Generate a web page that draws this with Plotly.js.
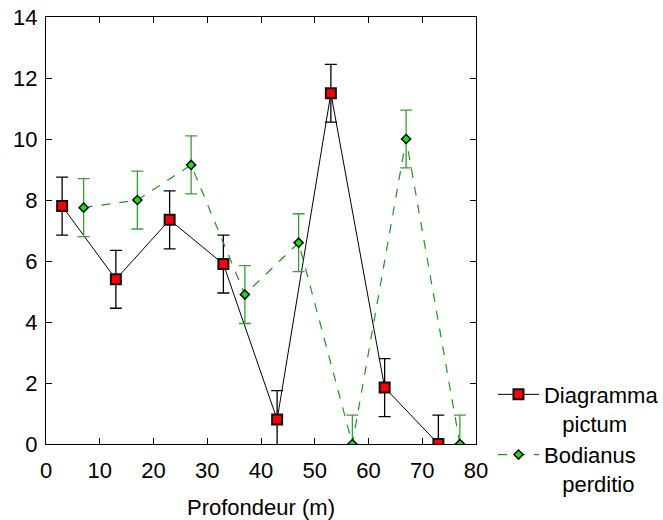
<!DOCTYPE html>
<html>
<head>
<meta charset="utf-8">
<script src="https://cdn.plot.ly/plotly-3.0.1.min.js"></script>
<style>html,body{margin:0;padding:0;background:#fff}</style>
</head>
<body>
<div id="chart" style="width:663px;height:520px"></div>
<script>
const depthA = [3, 13, 23, 33, 43, 53, 63, 73];
const valuesA = [7.8, 5.4, 7.35, 5.9, 0.8, 11.5, 1.85, 0];
const errA = [0.95, 0.95, 0.95, 0.95, 0.95, 0.95, 0.95, 0.95];
const depthB = [7, 17, 27, 37, 47, 57, 67, 77];
const valuesB = [7.75, 8.0, 9.15, 4.9, 6.6, 0, 10.0, 0];
const errB = [0.95, 0.95, 0.95, 0.95, 0.95, 0.95, 0.95, 0.95];
const nameA = "Diagramma<br>   pictum";
const nameB = "Bodianus<br>   perditio";

const traces = [
  {
    x: depthA, y: valuesA, name: nameA, type: 'scatter', mode: 'lines+markers',
    line: {color: '#000000', width: 1},
    marker: {symbol: 'square', size: 10, color: '#ff0000', line: {color: '#111111', width: 2}},
    error_y: {type: 'data', array: errA, visible: true, color: '#000000', thickness: 1.3, width: 6}
  },
  {
    x: depthB, y: valuesB, name: nameB, type: 'scatter', mode: 'lines+markers',
    line: {color: '#1e961e', width: 1.2, dash: 'dash'},
    marker: {symbol: 'diamond', size: 7, color: '#00ee00', line: {color: '#000000', width: 1.5}},
    error_y: {type: 'data', array: errB, visible: true, color: '#3a9e3a', thickness: 1.3, width: 6}
  }
];

const layout = {
  width: 663, height: 520,
  margin: {l: 46, r: 187, t: 17, b: 76, autoexpand: false},
  paper_bgcolor: '#ffffff', plot_bgcolor: '#ffffff',
  font: {family: 'Liberation Sans, Arial, sans-serif', size: 22, color: '#000000'},
  showlegend: true,
  legend: {x: 1.0395, y: 0.165, xanchor: 'left', yanchor: 'top', valign: 'top', itemwidth: 41, font: {size: 22}, tracegroupgap: 0, bgcolor: 'rgba(0,0,0,0)'},
  xaxis: {
    range: [0, 80], dtick: 10, tick0: 0, ticks: 'inside', ticklen: 6, tickcolor: '#000',
    showline: true, linecolor: '#000', linewidth: 1, mirror: 'ticks', showgrid: false, zeroline: false,
    title: {text: 'Profondeur (m)', font: {size: 22}, standoff: 20},
    tickfont: {size: 22}, ticklabelstandoff: 7
  },
  yaxis: {
    range: [0, 14], dtick: 2, tick0: 0, ticks: 'inside', ticklen: 6, tickcolor: '#000',
    showline: true, linecolor: '#000', linewidth: 1, mirror: 'ticks', showgrid: false, zeroline: false,
    tickfont: {size: 22}, ticklabelstandoff: 3
  }
};

Plotly.newPlot('chart', traces, layout, {displayModeBar: false, staticPlot: true});
</script>
</body>
</html>
